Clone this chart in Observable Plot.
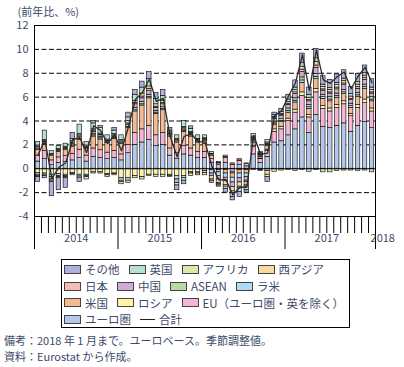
<!DOCTYPE html>
<html><head><meta charset="utf-8">
<script src="https://cdn.jsdelivr.net/npm/d3@7"></script>
<script src="https://cdn.jsdelivr.net/npm/@observablehq/plot@0.6"></script>
<style>
body{margin:0;background:#fff;font-family:"Noto Sans CJK JP",sans-serif;color:#3d4a6a;}
#wrap{position:relative;width:404px;height:367px;overflow:hidden;}
#legend{position:absolute;left:61px;top:259px;width:289px;height:69px;border:1px solid #000;box-sizing:border-box;font-size:11.5px;}
.row{position:absolute;left:2px;display:flex;align-items:center;height:16px;white-space:nowrap;}
.item{display:flex;align-items:center;margin-right:9px;}
.sw{width:17px;height:9px;border:1px solid #444;box-sizing:border-box;margin-right:4px;}
.ln{width:15px;height:0;border-top:1.5px solid #222;margin-right:4px;}
#notes{position:absolute;left:4px;top:332px;font-size:11px;line-height:16px;white-space:nowrap;}
</style></head>
<body><div id="wrap"><div id="chart"></div><div id="legend"></div><div id="notes"></div></div>
<script>
// Months: Jan 2014 .. Jan 2018 (49 months)
const monthCount = 49;
const years = ["2014", "2015", "2016", "2017", "2018"];
const yearStart = [0, 12, 24, 36, 48];
const yearLength = [12, 12, 12, 12, 1];
const yTicks = [-4, -2, 0, 2, 4, 6, 8, 10, 12];
const gridTicks = [-2, 2, 4, 6, 8, 10];

// series in stacking order (bottom to top)
const seriesNames = ["ユーロ圏", "EU（ユーロ圏・英を除く）", "ロシア", "米国", "ラ米", "ASEAN", "中国", "日本", "西アジア", "アフリカ", "英国", "その他"];
const seriesColors = ["#b4c8ea", "#f5b5d5", "#fff3a6", "#f7b892", "#addcf7", "#b8d9a3", "#cfacd8", "#f3bcb5", "#fbd89b", "#dbeaa9", "#b5e0d6", "#b0b0dc"];

const euroArea = [0.6,0.8,0.3,0.5,0.55,0.7,0.9,0.6,1.0,0.9,0.8,0.9, 0.7,1.3,2.0,2.2,2.4,1.9,2.0,1.1,0.8,1.2,1.1,0.9, 0.9,0.5,0.3,0.5,-0.3,0.3,0.2,1.2,0.5,1.0,2.2,2.3, 2.8,3.3,4.3,3.0,4.5,3.5,3.4,3.6,3.8,3.1,3.6,3.9, 3.4];
const euOther = [0.5,0.7,0.4,0.45,0.5,0.55,0.7,0.5,0.7,0.65,0.55,0.6, 0.5,0.7,1.0,1.1,1.2,0.9,1.0,0.6,0.5,0.7,0.6,0.5, 0.5,0.3,0.15,0.4,0.3,0.35,0.2,0.6,0.3,0.5,0.9,1.0, 1.2,1.4,1.8,1.3,1.9,1.5,1.4,1.5,1.6,1.3,1.5,1.6, 1.4];
const russia = [-0.35,-0.4,-0.5,-0.45,-0.5,-0.35,-0.5,-0.5,-0.3,-0.3,-0.45,-0.4, -0.8,-0.8,-0.6,-0.7,-0.5,-0.5,-0.5,-0.5,-0.6,-0.6,-0.3,-0.3, -0.2,-0.1,-0.1,-0.1,-0.1,-0.1,-0.1,0.1,0.05,0.1,0.2,0.2, 0.2,0.25,0.3,0.2,0.3,0.25,0.25,0.25,0.25,0.2,0.25,0.3, 0.25];
const usa = [0.5,0.5,0.4,0.45,0.5,0.6,0.8,0.6,1.0,0.9,0.8,1.0, 0.9,1.4,1.8,2.0,2.3,1.8,1.9,1.0,0.9,1.2,1.0,0.8, 0.7,0.3,-0.2,-0.3,-0.35,-0.3,-0.3,0.3,0.15,0.3,0.4,0.4, 0.5,0.6,0.8,0.5,0.8,0.6,0.6,0.6,0.6,0.5,0.65,0.9, 0.6];
const latinAmerica = [-0.15,-0.1,-0.2,-0.15,-0.1,0.1,-0.15,-0.1,0.1,0.1,-0.1,0.1, -0.2,-0.2,0.1,0.1,0.1,0.1,0.1,-0.1,-0.3,-0.2,-0.1,-0.1, -0.15,-0.3,-0.3,-0.35,-0.4,-0.4,-0.3,0.1,0.1,-0.2,0.1,0.1, 0.15,0.15,0.2,0.15,0.2,0.15,0.15,0.15,0.15,0.15,0.15,0.15, 0.15];
const asean = [0.1,0.1,0.05,0.1,0.1,0.1,0.1,0.05,0.1,0.1,0.05,0.1, 0.1,0.1,0.2,0.2,0.2,0.15,0.15,0.1,0.1,0.1,0.1,0.1, 0.2,0.1,0.05,0.1,0.05,0.05,0.05,0.1,0.05,0.1,0.15,0.15, 0.2,0.2,0.25,0.2,0.25,0.2,0.2,0.2,0.2,0.2,0.2,0.2, 0.2];
const china = [0.15,0.15,-0.2,0.1,0.1,0.15,0.2,0.1,0.2,0.15,0.1,0.1, 0.1,0.2,0.3,0.3,0.3,0.25,0.25,0.1,-0.3,0.1,0.15,0.1, 0.1,-0.2,-0.3,-0.3,-0.4,-0.35,-0.3,0.1,0.05,0.1,0.2,0.25, 0.3,0.35,0.45,0.3,0.5,0.35,0.3,0.35,0.4,0.3,0.35,0.4, 0.3];
const japan = [-0.1,0.05,-0.1,-0.1,-0.1,-0.1,0.1,-0.1,0.1,0.05,0.05,-0.05, -0.1,0.1,0.1,0.15,0.2,0.1,0.1,0.05,0.1,0.1,0.05,0.05, 0.1,0.05,0.05,0.1,0.1,0.1,-0.1,0.1,0.05,0.1,0.1,0.1, 0.1,0.15,0.2,0.1,0.2,0.1,0.1,0.15,0.15,0.1,0.15,0.15, 0.1];
const westAsia = [0.1,0.1,0.1,0.05,0.1,0.1,0.1,0.1,0.1,0.1,0.1,0.1, 0.1,0.2,0.2,0.25,0.2,0.2,0.2,0.1,0.1,0.1,0.1,-0.15, -0.2,-0.3,-0.3,-0.3,-0.35,-0.35,-0.3,0.1,0.05,-0.3,0.1,-0.15, 0.15,0.2,0.25,0.2,0.3,0.2,0.2,0.2,0.2,0.2,0.2,0.2, 0.2];
const africa = [-0.1,-0.1,-0.1,-0.1,-0.1,-0.1,-0.1,-0.2,-0.1,-0.1,-0.15,-0.1, -0.2,-0.2,-0.2,-0.2,-0.1,-0.2,-0.2,-0.1,-0.2,-0.2,-0.2,0.05, 0.05,-0.1,-0.1,-0.15,-0.15,-0.15,-0.1,-0.1,-0.1,-0.2,-0.25,0.1, -0.1,-0.2,-0.1,-0.25,-0.1,-0.3,-0.3,-0.2,-0.15,-0.15,-0.2,-0.15, -0.3];
const uk = [0.3,0.8,0.25,0.25,0.25,0.2,0.8,0.3,0.5,0.45,0.35,0.3, 0.4,0.3,0.5,0.5,0.6,0.45,0.4,0.15,0.3,0.5,0.25,0.3, 0.25,0.15,-0.1,-0.2,-0.3,-0.3,-0.3,0.2,0.1,0.2,0.15,0.15, 0.2,0.2,0.3,0.25,0.3,0.2,0.15,0.2,0.2,0.2,0.2,0.2, 0.2];
const others = [-0.4,-0.2,-1.2,-1.0,-0.8,0.5,-0.35,0.0,0.2,0.2,0.0,0.2, 0.0,0.4,0.4,0.5,0.6,0.5,0.5,0.2,-0.4,-0.3,0.2,0.0, 0.0,-0.2,-0.1,-0.3,-0.3,-0.4,-0.2,0.0,-0.1,-0.4,0.2,0.25, 0.4,0.6,0.8,0.6,0.8,0.7,0.7,0.7,0.7,0.6,0.7,0.65, 0.7];

const seriesValues = [euroArea, euOther, russia, usa, latinAmerica, asean, china, japan, westAsia, africa, uk, others];
const legendOrder = ["その他", "英国", "アフリカ", "西アジア", "日本", "中国", "ASEAN", "ラ米", "米国", "ロシア", "EU（ユーロ圏・英を除く）", "ユーロ圏"];
const legendRowSizes = [4, 4, 3, 1];
const totalLabel = "合計";
const unitLabel = "(前年比、%)";
const notes = ["備考：2018 年 1 月まで。ユーロベース。季節調整値。", "資料：Eurostat から作成。"];

// long table
const bars = [];
seriesNames.forEach((s, k) => {
  seriesValues[k].forEach((v, i) => { if (v !== 0) bars.push({i, s, v}); });
});
const totals = d3.range(monthCount).map(i => ({i, v: d3.sum(seriesValues, a => a[i])}));

const minorTicks = d3.range(1, monthCount + 1).filter(k => !yearStart.includes(k) || k === 48);
const majorTicks = [0, 12, 24, 36, monthCount];
const yearLabels = years.map((y, j) => ({y, x: yearStart[j] + yearLength[j] / 2, x0: yearStart[j]}));

const chart = Plot.plot({
  width: 404,
  height: 252,
  marginTop: 25,
  marginBottom: 36,
  marginLeft: 34,
  marginRight: 29,
  style: {fontFamily: '"Noto Sans CJK JP", sans-serif', fontSize: "11px", color: "#3d4a6a", background: "#fff"},
  x: {domain: [0, monthCount]},
  y: {domain: [-4, 12]},
  color: {domain: seriesNames, range: seriesColors},
  marks: [
    Plot.ruleY(gridTicks, {stroke: "#000", strokeWidth: 1, strokeDasharray: "5,2.5"}),
    Plot.rectY(bars, {x1: d => d.i + 0.18, x2: d => d.i + 0.82, y: "v", fill: "s", stroke: "#000", strokeWidth: 0.6}),
    Plot.ruleY([0], {stroke: "#000", strokeWidth: 1}),
    Plot.line(totals, {x: d => d.i + 0.5, y: "v", stroke: "#2a2a2a", strokeWidth: 1.3}),
    Plot.frame({stroke: "#000", strokeWidth: 1}),
    Plot.axisY({ticks: yTicks, tickSize: 0, tickPadding: 6, tickFormat: d => String(d), label: null}),
    Plot.axisX({ticks: minorTicks, tickSize: 17, tickFormat: () => "", stroke: "#000", label: null}),
    Plot.axisX({ticks: majorTicks, tickSize: 33, tickFormat: () => "", stroke: "#000", label: null}),
    Plot.text(yearLabels.slice(0, 4), {x: "x", text: "y", frameAnchor: "bottom", dy: 25, fill: "#3d4a6a", fontSize: 11}),
    Plot.text(yearLabels.slice(4), {x: "x0", text: "y", frameAnchor: "bottom", dy: 25, dx: 2, textAnchor: "start", fill: "#3d4a6a", fontSize: 11}),
    Plot.text([unitLabel], {frameAnchor: "top-left", dx: -17, dy: -17, textAnchor: "start", fill: "#3d4a6a", fontSize: 11})
  ]
});
document.getElementById("chart").appendChild(chart);

// legend
const legend = document.getElementById("legend");
const rowTops = [1, 18, 34.5, 51];
let idx = 0;
legendRowSizes.forEach((n, r) => {
  const row = document.createElement("div");
  row.className = "row";
  row.style.top = rowTops[r] + "px";
  for (let j = 0; j < n; j++, idx++) {
    const name = legendOrder[idx];
    const item = document.createElement("div");
    item.className = "item";
    const sw = document.createElement("div");
    sw.className = "sw";
    sw.style.background = seriesColors[seriesNames.indexOf(name)];
    item.appendChild(sw);
    item.appendChild(document.createTextNode(name));
    row.appendChild(item);
  }
  if (r === legendRowSizes.length - 1) {
    const item = document.createElement("div");
    item.className = "item";
    const ln = document.createElement("div");
    ln.className = "ln";
    item.appendChild(ln);
    item.appendChild(document.createTextNode(totalLabel));
    row.appendChild(item);
  }
  legend.appendChild(row);
});
document.getElementById("notes").innerHTML = notes.map(t => `<div>${t}</div>`).join("");
</script>
</body></html>
